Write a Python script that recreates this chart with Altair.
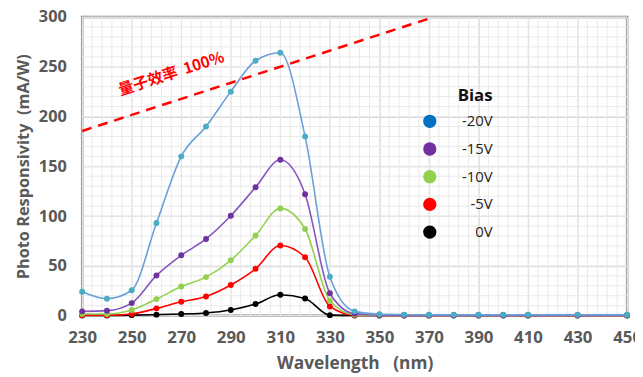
import altair as alt
import pandas as pd

wavelength = [230, 240, 250, 260, 270, 280, 290, 300, 310, 320, 330, 340, 350, 360, 370, 380, 390, 400, 410, 430, 450]
r_m20 = [24, 17, 25.5, 93, 160, 190, 225, 256, 264, 180, 39, 4.3, 1.5, 1, 0.8, 0.8, 0.8, 0.8, 0.8, 0.8, 0.8]
r_m15 = [4.3, 5, 12.6, 40.4, 60.6, 77, 100.3, 129, 156.5, 122, 22.5, 2, 0.6, 0.5, 0.5, 0.5, 0.5, 0.5, 0.5, 0.5, 0.5]
r_m10 = [1.7, 1.7, 5.7, 16.6, 29.2, 38.7, 55.6, 80.5, 107.7, 87, 15, 1, 0.4, 0.4, 0.4, 0.4, 0.4, 0.4, 0.4, 0.4, 0.4]
r_m5 = [0.5, 0.5, 1.7, 7.3, 13.9, 19.3, 30.8, 47.1, 70.5, 58.6, 9.3, 0.5, 0.3, 0.3, 0.3, 0.3, 0.3, 0.3, 0.3, 0.3, 0.3]
r_0 = [0.2, 0.2, 0.5, 1, 1.7, 2.7, 5.7, 11.6, 20.9, 17.3, 0.5, 0.2, 0.2, 0.2, 0.2, 0.2, 0.2, 0.2, 0.2, 0.2, 0.2]

bias_labels = ["-20V", "-15V", "-10V", "-5V", "0V"]
legend_colors = ["#0070C0", "#7030A0", "#92D050", "#FF0000", "#000000"]
marker_colors = ["#4BACC6", "#7030A0", "#92D050", "#FF0000", "#000000"]
line_colors = ["#6A9FD8", "#8555C0", "#92D050", "#FF0000", "#000000"]
series_values = [r_m20, r_m15, r_m10, r_m5, r_0]

qe_x = [230, 372]
qe_y = [185.5, 300]
qe_label = ["量子效率\u00a0\u00a0100%"]
qe_label_x = [266]
qe_label_y = [243]

x_ticks = [230, 250, 270, 290, 310, 330, 350, 370, 390, 410, 430, 450]
y_ticks = [0, 50, 100, 150, 200, 250, 300]
x_minor = list(range(230, 451, 4))
y_minor = list(range(0, 301, 10))

FONT = "Open Sans"
GRAY = "#595959"

xs = alt.Scale(domain=[230, 450], nice=False, zero=False)
ys = alt.Scale(domain=[0, 300], nice=False)

xax = alt.Axis(values=x_ticks, title="Wavelength\u00a0\u00a0\u00a0(nm)", labelFont=FONT, labelFontSize=17,
               labelFontWeight="bold", labelColor=GRAY, titleFont=FONT, titleFontSize=17.5,
               titleFontWeight="bold", titleColor=GRAY, ticks=False, domain=False,
               labelPadding=14, titlePadding=9, gridColor="#DADADA", labelFlush=False)
yax = alt.Axis(values=y_ticks, title="Photo Responsivity\u00a0\u00a0(mA/W)", labelFont=FONT, labelFontSize=16.5,
               labelFontWeight="bold", labelColor=GRAY, titleFont=FONT, titleFontSize=16.5,
               titleFontWeight="bold", titleColor=GRAY, ticks=False, domain=False,
               labelPadding=16, titlePadding=7, gridColor="#D0D0D0")

minor_x = alt.Chart(pd.DataFrame({"x": x_minor})).mark_rule(color="#EAEAEA", strokeWidth=1).encode(
    x=alt.X("x:Q", scale=xs, axis=xax))
minor_y = alt.Chart(pd.DataFrame({"y": y_minor})).mark_rule(color="#EAEAEA", strokeWidth=1).encode(
    y=alt.Y("y:Q", scale=ys, axis=yax))

rows = []
for lab, vals in zip(bias_labels, series_values):
    for w, v in zip(wavelength, vals):
        rows.append({"w": w, "r": v, "bias": lab})
df_all = pd.DataFrame(rows)

legend_layer = alt.Chart(df_all).mark_point(filled=True, size=1).encode(
    x=alt.X("w:Q", scale=xs, axis=xax),
    y=alt.Y("r:Q", scale=ys, axis=yax),
    color=alt.Color("bias:N", scale=alt.Scale(domain=bias_labels, range=legend_colors),
                    legend=alt.Legend(orient="none", legendX=344, legendY=72, title="Bias",
                                      titleFont=FONT, titleFontSize=17, titleFontWeight="bold",
                                      titleColor="#111111", titleAnchor="end", titlePadding=9,
                                      labelFont=FONT, labelFontSize=15, labelColor="#222222",
                                      labelAlign="right", labelOffset=56, symbolSize=180,
                                      symbolType="circle", symbolOpacity=1, symbolStrokeWidth=0,
                                      rowPadding=12, padding=0)),
)

layers = [minor_x, minor_y, legend_layer]

qe_line = alt.Chart(pd.DataFrame({"x": qe_x, "y": qe_y})).mark_line(
    color="#FF0000", strokeWidth=2.5, strokeDash=[10, 7]).encode(
    x=alt.X("x:Q", scale=xs, axis=xax), y=alt.Y("y:Q", scale=ys, axis=yax))
qe_text = alt.Chart(pd.DataFrame({"x": qe_label_x, "y": qe_label_y, "t": qe_label})).mark_text(
    color="#FF0000", font="Noto Sans CJK SC", fontSize=15.5, fontWeight="bold", angle=342).encode(
    x=alt.X("x:Q", scale=xs, axis=xax), y=alt.Y("y:Q", scale=ys, axis=yax), text="t:N")
layers += [qe_line, qe_text]

for i in reversed(range(len(bias_labels))):
    d = pd.DataFrame({"w": wavelength, "r": series_values[i]})
    base = alt.Chart(d).encode(x=alt.X("w:Q", scale=xs, axis=xax), y=alt.Y("r:Q", scale=ys, axis=yax))
    layers.append(base.mark_line(color=line_colors[i], strokeWidth=1.6, interpolate="monotone"))
    layers.append(base.mark_circle(color=marker_colors[i], size=36, opacity=1))

chart = alt.layer(*layers).properties(
    width=551, height=302,
    autosize=alt.AutoSizeParams(type="none"),
    padding={"left": 75, "top": 7, "right": 8, "bottom": 62},
    background="white",
).configure_view(stroke="#7F7F7F", strokeWidth=2.5)

chart.save("out.html", embed_options={"renderer": "svg", "actions": False})
